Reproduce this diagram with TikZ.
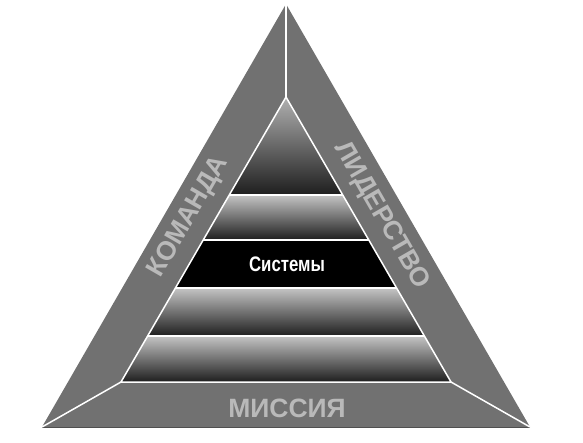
\documentclass[tikz,border=0pt]{standalone}
\usepackage{fontspec}
\setmainfont{Liberation Sans}
\newfontfamily\condfont[FakeStretch=0.8]{Liberation Sans}
\definecolor{sidegray}{HTML}{717171}
\definecolor{labelgray}{HTML}{B9B9B9}
\definecolor{bandtop}{HTML}{C4C4C4}
\definecolor{bandmid}{HTML}{7E7E7E}
\definecolor{bandbot}{HTML}{1E1E1E}
\tikzset{
  bandshade/.style={top color=bandtop, middle color=bandmid, bottom color=bandbot},
  sepline/.style={draw=white, line width=1.5pt},
  sidelabel/.style={text=labelgray, font=\bfseries\fontsize{26.5}{28}\selectfont, inner sep=0pt},
}
\begin{document}
\begin{tikzpicture}[x=1pt,y=-1pt]
\useasboundingbox (0,0) rectangle (583,442);
\coordinate (OA) at (286,4);
\coordinate (OL) at (42,427);
\coordinate (OR) at (530,427);
\coordinate (IA) at (286,97);
\coordinate (IL) at (121,382);
\coordinate (IR) at (451,382);
% outer triangle
\fill[sidegray] (OA) -- (OL) -- (OR) -- cycle;
\draw[color=sidegray!70!black, line width=1pt] (OL) -- (OR);
% inner bands
\begin{scope}
  \clip (IA) -- (IL) -- (IR) -- cycle;
  \shade[top color=bandtop!90!black, middle color=bandmid!80!black, bottom color=bandbot] (100,97) rectangle (470,195);
  \shade[bandshade] (100,195) rectangle (470,240);
  \fill[black] (100,240) rectangle (470,288);
  \shade[bandshade] (100,288) rectangle (470,336);
  \shade[bandshade] (100,336) rectangle (470,382);
  \draw[sepline] (100,195) -- (470,195);
  \draw[sepline] (100,240) -- (470,240);
  \draw[sepline] (100,288) -- (470,288);
  \draw[sepline] (100,336) -- (470,336);
\end{scope}
\draw[sepline, line join=miter] (IA) -- (IL) -- (IR) -- cycle;
\draw[sepline] (OA) -- (IA);
\draw[sepline] (OL) -- (IL);
\draw[sepline] (OR) -- (IR);
% labels
\node[text=white, font=\condfont\bfseries\fontsize{21}{23}\selectfont, inner sep=0pt] (sys) at (287,264) {Системы};
\node[sidelabel, rotate=60] (team) at (189,217) {КОМАНДА};
\node[sidelabel, rotate=-60] (lead) at (381.5,216) {ЛИДЕРСТВО};
\node[sidelabel] (mission) at (287,408) {МИССИЯ};
\end{tikzpicture}
\end{document}
